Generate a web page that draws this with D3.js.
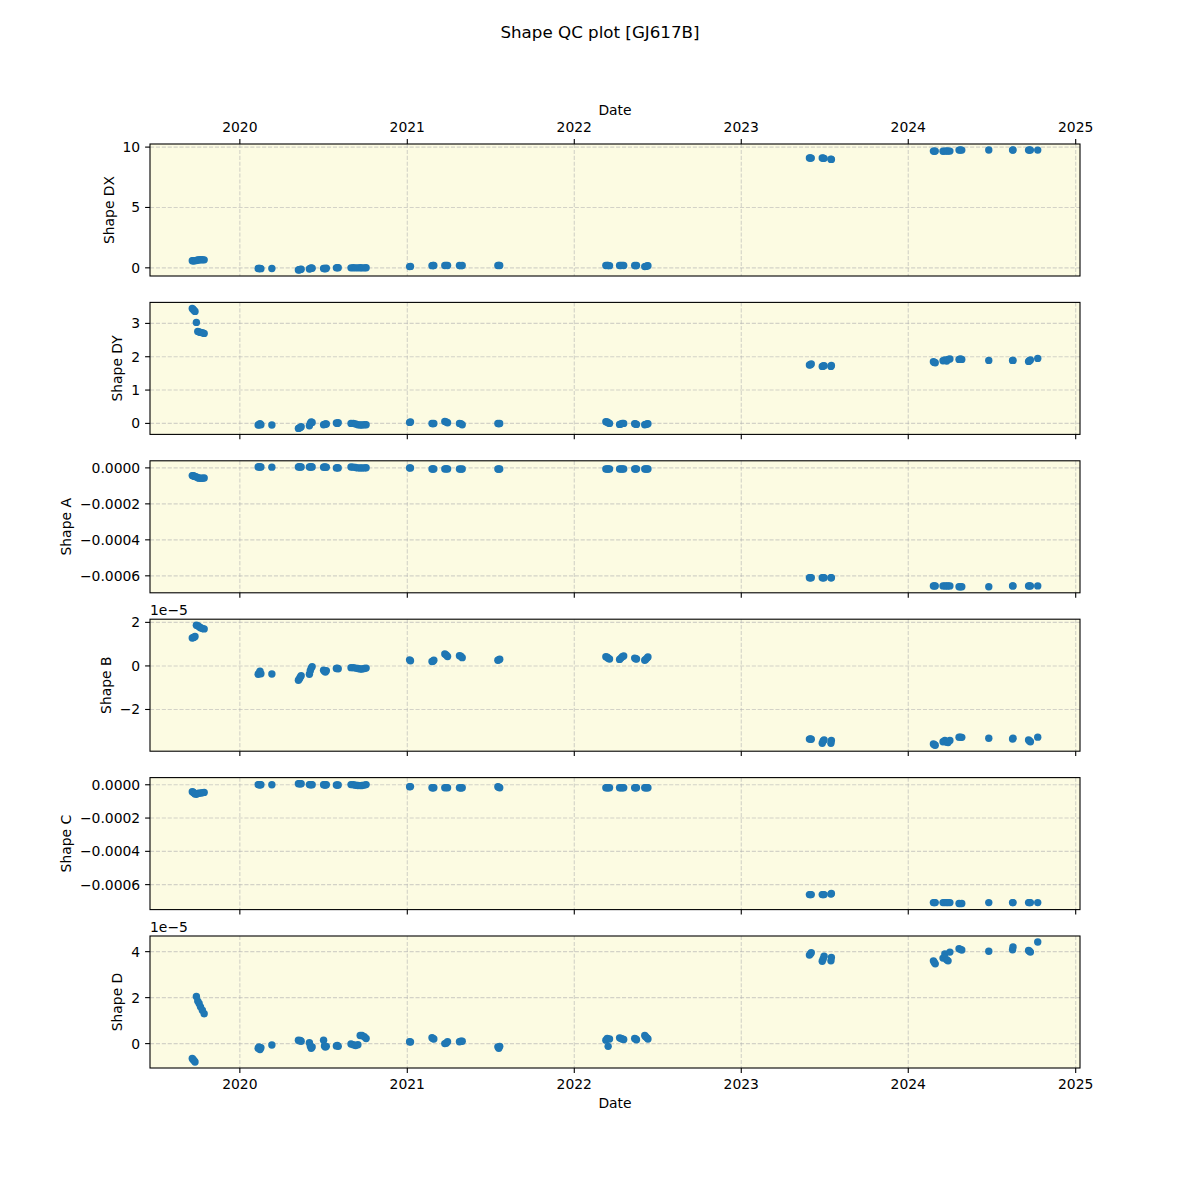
<!DOCTYPE html>
<html><head><meta charset="utf-8">
<script src="https://cdn.jsdelivr.net/npm/d3@7"></script>
<style>body{margin:0;background:#fff} text{font-family:"DejaVu Sans",sans-serif;fill:#000}</style>
</head><body><svg id="c" width="1200" height="1200"></svg>
<script>
// ---------------- DATA ----------------
const titleText = "Shape QC plot [GJ617B]";
const xLabel = "Date";
const yearTicks = [2020, 2021, 2022, 2023, 2024, 2025];

const dateStrs = [
"2019-09-19","2019-09-21","2019-09-23","2019-09-25","2019-09-28","2019-10-01","2019-10-04","2019-10-07","2019-10-11","2019-10-15",
"2020-02-10","2020-02-12","2020-02-14","2020-02-16",
"2020-03-11",
"2020-05-08","2020-05-10","2020-05-12","2020-05-14",
"2020-06-01","2020-06-03","2020-06-05","2020-06-07",
"2020-07-02","2020-07-04","2020-07-06","2020-07-08",
"2020-07-30","2020-08-01","2020-08-03",
"2020-08-31","2020-09-05","2020-09-10","2020-09-15","2020-09-20","2020-09-24","2020-09-29","2020-10-03",
"2021-01-06","2021-01-08",
"2021-02-24","2021-02-26","2021-02-28",
"2021-03-24","2021-03-27","2021-03-30",
"2021-04-25","2021-04-28","2021-05-01",
"2021-07-18","2021-07-20","2021-07-22",
"2022-03-11","2022-03-14","2022-03-16","2022-03-19",
"2022-04-10","2022-04-13","2022-04-16","2022-04-19",
"2022-05-13","2022-05-15","2022-05-17",
"2022-06-04","2022-06-06","2022-06-09","2022-06-11",
"2023-05-30","2023-06-01","2023-06-03",
"2023-06-27","2023-06-29","2023-07-01",
"2023-07-16","2023-07-17",
"2024-02-25","2024-02-27","2024-02-29",
"2024-03-17","2024-03-21","2024-03-25","2024-03-28","2024-04-01",
"2024-04-21","2024-04-24","2024-04-27",
"2024-06-25",
"2024-08-16","2024-08-17",
"2024-09-20","2024-09-22","2024-09-24",
"2024-10-10"];

const shapeDX = [
0.58,0.58,0.59,0.60,0.61,0.65,0.66,0.67,0.67,0.66,
-0.06,-0.05,-0.06,-0.07,
-0.06,
-0.18,-0.16,-0.14,-0.12,
-0.10,-0.05,-0.02,-0.03,
-0.05,-0.06,-0.08,-0.04,
0.00,0.02,0.01,
0.00,0.01,0.00,0.00,0.01,0.00,0.00,0.01,
0.10,0.12,
0.18,0.19,0.19,
0.19,0.20,0.19,
0.19,0.18,0.19,
0.19,0.20,0.19,
0.19,0.20,0.19,0.18,
0.19,0.19,0.20,0.19,
0.19,0.18,0.19,
0.10,0.12,0.15,0.18,
9.10,9.10,9.09,
9.10,9.08,9.07,
9.00,8.98,
9.67,9.66,9.67,
9.66,9.67,9.68,9.67,9.67,
9.75,9.76,9.75,
9.76,
9.75,9.76,
9.75,9.76,9.75,
9.75];

const shapeDY = [
3.45,3.42,3.39,3.36,3.03,2.76,2.74,2.73,2.72,2.70,
-0.05,-0.04,-0.01,-0.04,
-0.05,
-0.15,-0.14,-0.12,-0.10,
-0.07,0.00,0.04,0.03,
-0.04,-0.03,-0.02,-0.02,
0.01,0.00,0.02,
0.00,0.00,-0.02,-0.04,-0.05,-0.05,-0.04,-0.04,
0.03,0.04,
0.00,-0.01,0.00,
0.06,0.04,0.02,
0.00,-0.01,-0.04,
0.00,-0.01,0.00,
0.05,0.04,0.02,0.00,
-0.03,-0.02,0.00,0.00,
-0.01,-0.02,-0.03,
-0.04,-0.03,-0.02,-0.01,
1.75,1.76,1.78,
1.71,1.72,1.73,
1.71,1.74,
1.85,1.83,1.82,
1.88,1.90,1.87,1.92,1.93,
1.92,1.93,1.92,
1.89,
1.89,1.89,
1.86,1.88,1.90,
1.95];

const shapeA = [
-0.000043,-0.000044,-0.000046,-0.000048,-0.000050,-0.000055,-0.000057,-0.000058,-0.000058,-0.000056,
0.000005,0.000006,0.000005,0.000005,
0.000004,
0.000005,0.000006,0.000005,0.000005,
0.000005,0.000005,0.000006,0.000005,
0.000004,0.000005,0.000004,0.000004,
0.000000,0.000001,0.000000,
0.000005,0.000004,0.000002,0.000000,0.000000,0.000000,0.000000,0.000001,
-0.000001,0.000000,
-0.000006,-0.000006,-0.000006,
-0.000006,-0.000005,-0.000006,
-0.000006,-0.000007,-0.000006,
-0.000006,-0.000007,-0.000006,
-0.000006,-0.000006,-0.000006,-0.000006,
-0.000006,-0.000006,-0.000006,-0.000006,
-0.000006,-0.000006,-0.000006,
-0.000006,-0.000006,-0.000006,-0.000006,
-0.000611,-0.000611,-0.000611,
-0.000611,-0.000611,-0.000611,
-0.000611,-0.000611,
-0.000656,-0.000656,-0.000656,
-0.000656,-0.000656,-0.000656,-0.000656,-0.000656,
-0.000661,-0.000661,-0.000661,
-0.000661,
-0.000656,-0.000656,
-0.000656,-0.000656,-0.000656,
-0.000656];

// Shape B and Shape D in units of 1e-5
const shapeB = [
1.28,1.30,1.32,1.35,1.87,1.85,1.80,1.75,1.72,1.70,
-0.38,-0.33,-0.24,-0.36,
-0.37,
-0.66,-0.60,-0.52,-0.45,
-0.38,-0.22,-0.10,-0.03,
-0.20,-0.25,-0.28,-0.22,
-0.12,-0.11,-0.13,
-0.08,-0.08,-0.10,-0.12,-0.14,-0.14,-0.12,-0.10,
0.28,0.24,
0.20,0.22,0.26,
0.55,0.50,0.43,
0.47,0.45,0.38,
0.26,0.28,0.31,
0.42,0.40,0.35,0.32,
0.30,0.36,0.42,0.46,
0.36,0.33,0.32,
0.26,0.30,0.36,0.41,
-3.36,-3.35,-3.37,
-3.55,-3.45,-3.40,
-3.55,-3.42,
-3.58,-3.62,-3.64,
-3.48,-3.42,-3.50,-3.52,-3.42,
-3.27,-3.27,-3.28,
-3.32,
-3.36,-3.32,
-3.40,-3.45,-3.48,
-3.27];

const shapeC = [
-0.000042,-0.000045,-0.000050,-0.000055,-0.000057,-0.000052,-0.000050,-0.000050,-0.000048,-0.000046,
0.000001,0.000000,0.000000,0.000000,
0.000000,
0.000006,0.000007,0.000006,0.000006,
0.000001,0.000000,0.000001,0.000000,
0.000000,0.000000,-0.000001,0.000000,
-0.000001,-0.000002,-0.000001,
0.000001,0.000000,-0.000003,-0.000004,-0.000005,-0.000004,-0.000002,0.000001,
-0.000012,-0.000011,
-0.000018,-0.000018,-0.000018,
-0.000018,-0.000017,-0.000018,
-0.000018,-0.000019,-0.000018,
-0.000012,-0.000015,-0.000018,
-0.000018,-0.000018,-0.000018,-0.000018,
-0.000018,-0.000018,-0.000018,-0.000018,
-0.000018,-0.000018,-0.000018,
-0.000018,-0.000018,-0.000018,-0.000018,
-0.000660,-0.000660,-0.000660,
-0.000660,-0.000660,-0.000660,
-0.000657,-0.000653,
-0.000708,-0.000708,-0.000708,
-0.000708,-0.000708,-0.000708,-0.000708,-0.000708,
-0.000713,-0.000714,-0.000713,
-0.000708,
-0.000708,-0.000708,
-0.000708,-0.000708,-0.000708,
-0.000708];

const shapeD = [
-0.65,-0.70,-0.74,-0.80,2.05,1.85,1.75,1.60,1.45,1.30,
-0.20,-0.15,-0.26,-0.18,
-0.06,
0.15,0.12,0.14,0.10,
0.04,-0.10,-0.20,-0.15,
0.15,-0.10,-0.15,-0.12,
-0.10,-0.08,-0.12,
-0.02,-0.05,-0.08,-0.05,0.35,0.35,0.30,0.22,
0.08,0.07,
0.26,0.22,0.20,
0.00,0.02,0.08,
0.08,0.11,0.10,
-0.14,-0.20,-0.12,
0.15,0.22,-0.12,0.20,
0.25,0.22,0.20,0.18,
0.22,0.20,0.17,
0.35,0.30,0.25,0.20,
3.85,3.90,3.95,
3.58,3.68,3.80,
3.60,3.75,
3.60,3.53,3.47,
3.72,3.90,3.65,3.60,3.98,
4.13,4.10,4.07,
4.02,
4.08,4.20,
4.05,4.02,3.98,
4.42];

const panelLabels = ["Shape DX","Shape DY","Shape A","Shape B","Shape C","Shape D"];
const dxTicks = [0,5,10];
const dyTicks = [0,1,2,3];
const aTicks = [-0.0006,-0.0004,-0.0002,0];
const bTicks = [-2,0,2];
const cTicks = [-0.0006,-0.0004,-0.0002,0];
const dTicks = [0,2,4];
const offsetLabel = "1e\u22125";

// ---------------- DRAW ----------------
const fmtInt = d3.format("d"), fmt4 = d3.format(".4f");
const panels = [
  {label:panelLabels[0], values:shapeDX, ticks:dxTicks, fmt:fmtInt, offset:null},
  {label:panelLabels[1], values:shapeDY, ticks:dyTicks, fmt:fmtInt, offset:null},
  {label:panelLabels[2], values:shapeA, ticks:aTicks, fmt:fmt4, offset:null},
  {label:panelLabels[3], values:shapeB, ticks:bTicks, fmt:fmtInt, offset:offsetLabel},
  {label:panelLabels[4], values:shapeC, ticks:cTicks, fmt:fmt4, offset:null},
  {label:panelLabels[5], values:shapeD, ticks:dTicks, fmt:fmtInt, offset:offsetLabel}
];

const svg = d3.select("#c");
const L=150, R=1080, T=144, Bm=1068, n=panels.length, hs=0.2;
const ph = (Bm-T)/(n+(n-1)*hs), gap = ph*hs;
const tickLen = 4.9, tickPad = 4.9, fs = 13.9;
const bg = "#fcfbe2", dot = "#1f77b4";

const parse = d3.timeParse("%Y-%m-%d");
const dates = dateStrs.map(parse);
const [dmin, dmax] = d3.extent(dates);
const span = dmax - dmin;
const x = d3.scaleTime()
  .domain([new Date(+dmin - 0.05*span), new Date(+dmax + 0.05*span)])
  .range([L, R]);
const xTickDates = yearTicks.map(yv => new Date(yv, 0, 1));
const fmtYear = d3.timeFormat("%Y");

svg.append("text").attr("x", 600).attr("y", 38).attr("text-anchor","middle")
  .style("font-size","16.7px").text(titleText);

panels.forEach((p, i) => {
  const top = T + i*(ph+gap), bot = top + ph;
  const ext = d3.extent(p.values), r = ext[1]-ext[0];
  const y = d3.scaleLinear().domain([ext[0]-0.05*r, ext[1]+0.05*r]).range([bot, top]);
  const g = svg.append("g");

  g.append("rect").attr("x",L).attr("y",top).attr("width",R-L).attr("height",ph).attr("fill",bg);

  // grid
  const grid = g.append("g").attr("stroke","#b0b0b0").attr("stroke-opacity",0.55)
    .attr("stroke-width",1.1).attr("stroke-dasharray","4.1,1.8");
  xTickDates.forEach(d => {
    const xv = x(d);
    if (xv >= L && xv <= R) grid.append("line").attr("x1",xv).attr("x2",xv).attr("y1",top).attr("y2",bot);
  });
  p.ticks.forEach(t => {
    grid.append("line").attr("x1",L).attr("x2",R).attr("y1",y(t)).attr("y2",y(t));
  });

  // points
  g.append("g").selectAll("circle").data(p.values).join("circle")
    .attr("cx",(v,k)=>x(dates[k])).attr("cy",v=>y(v)).attr("r",3.7).attr("fill",dot);

  // frame
  g.append("rect").attr("x",L).attr("y",top).attr("width",R-L).attr("height",ph)
    .attr("fill","none").attr("stroke","#000").attr("stroke-width",1.1);

  // y ticks
  const yt = g.append("g");
  p.ticks.forEach(t => {
    yt.append("line").attr("x1",L-tickLen).attr("x2",L).attr("y1",y(t)).attr("y2",y(t))
      .attr("stroke","#000").attr("stroke-width",1.1);
  });
  const ytl = g.append("g");
  p.ticks.forEach(t => {
    ytl.append("text").attr("x",L-tickLen-tickPad).attr("y",y(t)).attr("dy","0.36em")
      .attr("text-anchor","end").style("font-size",fs+"px").text(p.fmt(t));
  });
  const bb = ytl.node().getBBox();
  g.append("text").attr("transform",`translate(${bb.x-9},${(top+bot)/2}) rotate(-90)`)
    .attr("text-anchor","middle").style("font-size",fs+"px").text(p.label);

  if (p.offset) {
    g.append("text").attr("x",L).attr("y",top-4).style("font-size",fs+"px").text(p.offset);
  }

  // x ticks
  xTickDates.forEach(d => {
    const xv = x(d);
    if (xv < L-0.5 || xv > R+0.5) return;
    if (i === 0) {
      g.append("line").attr("x1",xv).attr("x2",xv).attr("y1",top-tickLen).attr("y2",top)
        .attr("stroke","#000").attr("stroke-width",1.1);
      g.append("text").attr("x",xv).attr("y",131.5).attr("text-anchor","middle")
        .style("font-size",fs+"px").text(fmtYear(d));
    } else {
      g.append("line").attr("x1",xv).attr("x2",xv).attr("y1",bot).attr("y2",bot+tickLen)
        .attr("stroke","#000").attr("stroke-width",1.1);
      if (i === n-1) {
        g.append("text").attr("x",xv).attr("y",bot+21.3).attr("text-anchor","middle")
          .style("font-size",fs+"px").text(fmtYear(d));
      }
    }
  });
  if (i === 0) {
    g.append("text").attr("x",(L+R)/2).attr("y",115).attr("text-anchor","middle")
      .style("font-size",fs+"px").text(xLabel);
  }
  if (i === n-1) {
    g.append("text").attr("x",(L+R)/2).attr("y",bot+40).attr("text-anchor","middle")
      .style("font-size",fs+"px").text(xLabel);
  }
});
</script></body></html>
